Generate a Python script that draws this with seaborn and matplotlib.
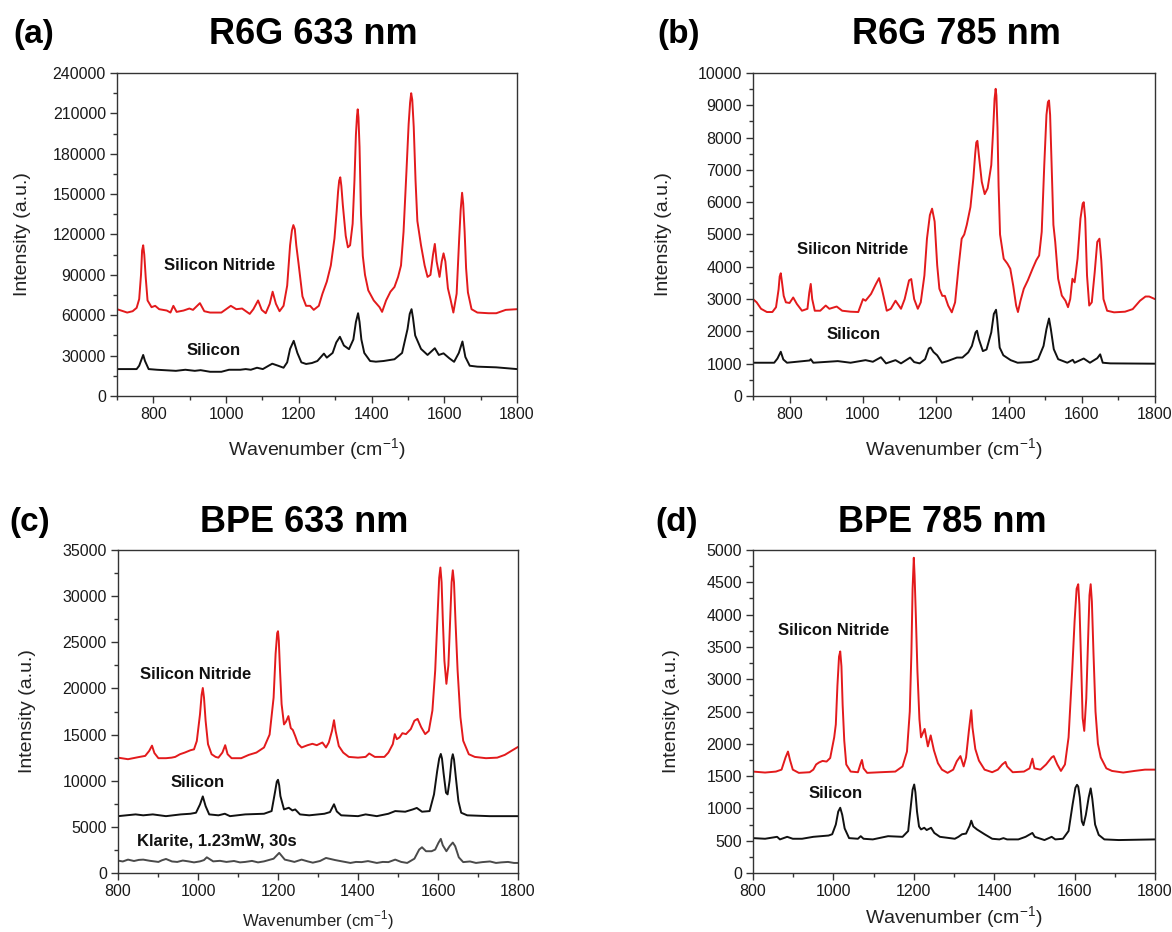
import matplotlib
matplotlib.use("Agg")
import matplotlib.pyplot as plt
from matplotlib.ticker import MultipleLocator
import seaborn as sns
import pandas as pd

# ---------------- data ----------------
# (a) R6G 633 nm
a_nitride_x = [700, 717, 728, 743, 754, 761, 766, 769, 772, 775, 779, 784, 795, 805, 816, 837, 847, 855, 864, 883,
               899, 909, 928, 940, 956, 987, 1013, 1028, 1044, 1065, 1075, 1088, 1098, 1109, 1120, 1128, 1137, 1147,
               1158, 1168, 1176, 1181, 1185, 1189, 1193, 1199, 1210, 1220, 1231, 1241, 1255, 1265, 1277, 1288, 1298,
               1304, 1308, 1311, 1314, 1317, 1321, 1329, 1335, 1341, 1348, 1353, 1357, 1360, 1362, 1364, 1367, 1371,
               1376, 1382, 1391, 1406, 1422, 1429, 1440, 1452, 1463, 1473, 1481, 1488, 1496, 1502, 1506, 1509, 1512,
               1516, 1521, 1526, 1536, 1546, 1554, 1562, 1569, 1574, 1579, 1587, 1593, 1598, 1603, 1610, 1617, 1625,
               1634, 1641, 1645, 1649, 1652, 1656, 1660, 1665, 1675, 1691, 1722, 1743, 1769, 1800]
a_nitride_y = [64500, 63000, 62000, 63000, 65500, 72000, 90000, 108000, 112000, 105000, 88000, 71000, 66000, 67000,
               64500, 63500, 62000, 67000, 62500, 63500, 65000, 64000, 69000, 63000, 62000, 62000, 67000, 64500,
               65000, 61000, 64500, 71000, 64000, 61500, 68500, 77500, 68500, 63000, 67000, 82000, 112000, 123000,
               127000, 124000, 112000, 99000, 74000, 67000, 67000, 64000, 67000, 76000, 85000, 97000, 117000, 137000,
               152000, 160000, 162500, 156000, 142000, 119000, 110500, 112000, 128000, 160000, 194000, 208000,
               213000, 207000, 185000, 135000, 104000, 90000, 78500, 71000, 66000, 62500, 71000, 77500, 81000, 88500,
               97000, 122000, 167000, 202000, 218000, 225000, 220000, 200000, 160000, 130000, 112000, 97000, 88500,
               90000, 105000, 113000, 100000, 88500, 100000, 106000, 100000, 80000, 72000, 62000, 76000, 117000,
               138000, 151000, 143000, 122000, 95000, 77000, 64500, 62000, 61500, 61500, 64000, 64500]
a_silicon_x = [700, 754, 761, 772, 777, 787, 810, 862, 888, 914, 930, 956, 987, 1008, 1039, 1054, 1068, 1085, 1101,
               1117, 1127, 1143, 1158, 1168, 1176, 1186, 1196, 1207, 1220, 1236, 1251, 1269, 1277, 1293, 1303, 1313,
               1324, 1338, 1350, 1357, 1363, 1367, 1372, 1380, 1396, 1412, 1433, 1463, 1484, 1499, 1505, 1510, 1514,
               1520, 1536, 1554, 1574, 1585, 1598, 1614, 1627, 1640, 1650, 1658, 1670, 1691, 1743, 1800]
a_silicon_y = [20000, 20000, 22500, 30500, 26000, 20000, 19500, 18700, 19500, 18700, 19200, 18000, 18000, 19500,
               19500, 20000, 19500, 21000, 20000, 22500, 24000, 22500, 21000, 25000, 35000, 41000, 32000, 25000,
               23800, 24500, 26000, 31500, 28500, 32000, 39800, 44000, 37500, 34800, 42000, 55000, 61500, 55000,
               42000, 32000, 26000, 25500, 26000, 27300, 32000, 49800, 61000, 64500, 58000, 45000, 35000, 30500,
               35500, 30500, 31700, 28000, 25400, 32000, 40500, 29000, 22500, 21800, 21300, 20000]

# (b) R6G 785 nm
b_nitride_x = [700, 710, 722, 738, 753, 763, 770, 773, 776, 779, 784, 790, 800, 810, 820, 834, 849, 854, 858, 862,
               869, 884, 899, 909, 929, 944, 967, 988, 1001, 1008, 1023, 1036, 1045, 1053, 1066, 1077, 1090, 1105,
               1115, 1127, 1133, 1141, 1151, 1159, 1169, 1176, 1184, 1190, 1197, 1204, 1210, 1218, 1225, 1234, 1244,
               1253, 1263, 1271, 1278, 1285, 1295, 1303, 1308, 1311, 1314, 1318, 1326, 1334, 1342, 1352, 1357, 1361,
               1364, 1366, 1369, 1372, 1376, 1386, 1396, 1404, 1412, 1420, 1425, 1432, 1441, 1452, 1465, 1475, 1483,
               1490, 1497, 1503, 1507, 1510, 1513, 1517, 1522, 1527, 1535, 1545, 1555, 1562, 1568, 1574, 1580, 1588,
               1596, 1602, 1605, 1609, 1614, 1620, 1627, 1635, 1642, 1648, 1653, 1659, 1669, 1688, 1718, 1739, 1759,
               1774, 1784, 1800]
b_nitride_y = [3000, 2900, 2700, 2600, 2600, 2750, 3300, 3700, 3800, 3550, 3100, 2900, 2880, 3050, 2850, 2640, 2700,
               3200, 3470, 3000, 2640, 2640, 2800, 2700, 2770, 2640, 2610, 2600, 3000, 2950, 3160, 3460, 3650, 3300,
               2640, 2700, 2950, 2700, 3000, 3580, 3620, 3000, 2700, 2900, 3730, 4870, 5600, 5800, 5400, 4050, 3320,
               3100, 3100, 2800, 2590, 2900, 4050, 4870, 5000, 5300, 5850, 6740, 7500, 7850, 7900, 7460, 6630, 6250,
               6430, 7150, 8200, 9200, 9510, 9300, 8300, 6500, 5000, 4250, 4100, 3940, 3420, 2800, 2600, 2950, 3320,
               3580, 3940, 4200, 4350, 5080, 7150, 8700, 9100, 9150, 8700, 7200, 5300, 4770, 3630, 3110, 2950, 2750,
               3000, 3630, 3520, 4250, 5490, 5950, 6000, 5500, 3730, 2800, 2900, 3830, 4770, 4870, 4200, 3000, 2640,
               2590, 2610, 2690, 2950, 3080, 3080, 3000]
b_silicon_x = [700, 758, 767, 776, 783, 793, 855, 858, 865, 932, 967, 1008, 1028, 1050, 1064, 1090, 1105, 1130,
               1141, 1156, 1171, 1181, 1186, 1194, 1204, 1217, 1232, 1258, 1273, 1289, 1299, 1309, 1313, 1318, 1329,
               1339, 1352, 1359, 1365, 1368, 1375, 1385, 1405, 1424, 1460, 1480, 1495, 1503, 1510, 1515, 1523, 1535,
               1560, 1575, 1580, 1605, 1622, 1642, 1650, 1657, 1678, 1800]
b_silicon_y = [1030, 1030, 1160, 1370, 1130, 1030, 1100, 1140, 1030, 1080, 1030, 1110, 1060, 1200, 1010, 1110, 1010,
               1190, 1050, 1010, 1140, 1470, 1500, 1360, 1260, 1030, 1080, 1190, 1190, 1350, 1550, 1970, 2020, 1760,
               1390, 1440, 1970, 2540, 2670, 2390, 1500, 1260, 1110, 1030, 1050, 1140, 1550, 2070, 2400, 2070, 1450,
               1140, 1030, 1120, 1030, 1160, 1030, 1170, 1290, 1030, 1010, 1000]

# (c) BPE 633 nm
c_nitride_x = [800, 825, 854, 868, 878, 885, 891, 901, 920, 934, 943, 955, 967, 981, 990, 997, 1005, 1009, 1012,
               1015, 1019, 1025, 1034, 1044, 1051, 1061, 1068, 1074, 1084, 1108, 1127, 1146, 1165, 1179, 1189, 1194,
               1198, 1200, 1202, 1205, 1209, 1215, 1220, 1226, 1232, 1237, 1243, 1250, 1259, 1274, 1286, 1297, 1311,
               1320, 1327, 1335, 1340, 1344, 1352, 1363, 1377, 1400, 1419, 1428, 1442, 1466, 1476, 1487, 1492, 1497,
               1504, 1511, 1520, 1532, 1541, 1549, 1558, 1568, 1577, 1586, 1593, 1599, 1603, 1606, 1609, 1612, 1616,
               1621, 1626, 1630, 1634, 1637, 1640, 1644, 1649, 1656, 1663, 1677, 1692, 1720, 1748, 1767, 1786, 1800]
c_nitride_y = [12500, 12330, 12580, 12690, 13230, 13800, 13000, 12440, 12440, 12500, 12580, 12870, 13050, 13300,
               13400, 14300, 17200, 19300, 20050, 19000, 16500, 13960, 12870, 12580, 12500, 13050, 13850, 12870,
               12440, 12440, 12800, 13050, 13600, 15000, 19000, 23750, 26000, 26200, 25200, 22000, 18300, 16100,
               16400, 17000, 15700, 15500, 14850, 14000, 13600, 13850, 14000, 13850, 14140, 13600, 14140, 15400,
               16560, 15400, 13760, 13050, 12580, 12500, 12580, 12950, 12580, 12580, 13050, 13960, 15050, 14500,
               14700, 15150, 15050, 15600, 16500, 16700, 15800, 15050, 15400, 17600, 21950, 28000, 32000, 33100,
               31500, 27500, 23000, 20500, 22500, 27000, 31500, 32800, 31500, 27000, 21950, 16900, 14330, 12870,
               12580, 12440, 12500, 12800, 13300, 13660]
c_silicon_x = [800, 844, 863, 887, 920, 957, 981, 995, 1005, 1012, 1019, 1028, 1051, 1067, 1080, 1118, 1165, 1184,
               1193, 1197, 1200, 1203, 1206, 1215, 1227, 1236, 1243, 1255, 1278, 1316, 1330, 1340, 1347, 1358, 1400,
               1419, 1447, 1476, 1493, 1518, 1537, 1547, 1560, 1579, 1590, 1598, 1603, 1607, 1610, 1614, 1620, 1624,
               1629, 1634, 1637, 1640, 1645, 1651, 1658, 1673, 1729, 1800]
c_silicon_y = [6160, 6350, 6250, 6350, 6160, 6350, 6420, 6530, 7430, 8300, 7250, 6350, 6250, 6420, 6160, 6350, 6420,
               6710, 8880, 9900, 10100, 9500, 8340, 6890, 7070, 6780, 6890, 6350, 6250, 6420, 6600, 7450, 6670, 6250,
               6160, 6350, 6160, 6420, 6710, 6640, 6890, 7050, 6640, 6710, 8520, 11060, 12400, 12900, 12400, 10800,
               8700, 8520, 10000, 12300, 12870, 12300, 10200, 7800, 6530, 6250, 6160, 6160]
c_klarite_x = [800, 812, 825, 840, 852, 863, 880, 901, 910, 920, 935, 948, 962, 976, 990, 1005, 1015, 1022, 1038,
               1055, 1071, 1090, 1105, 1118, 1135, 1150, 1165, 1189, 1203, 1217, 1230, 1241, 1259, 1275, 1287, 1305,
               1320, 1343, 1360, 1381, 1395, 1409, 1425, 1447, 1462, 1476, 1493, 1508, 1523, 1541, 1553, 1560, 1570,
               1584, 1593, 1601, 1607, 1612, 1621, 1629, 1637, 1643, 1652, 1663, 1680, 1695, 1711, 1730, 1745, 1758,
               1775, 1790, 1800]
c_klarite_y = [1340, 1250, 1450, 1300, 1420, 1450, 1320, 1200, 1380, 1520, 1250, 1200, 1350, 1260, 1150, 1260, 1400,
               1700, 1260, 1320, 1200, 1300, 1150, 1200, 1310, 1150, 1260, 1550, 2180, 1450, 1320, 1200, 1450, 1250,
               1120, 1300, 1630, 1400, 1260, 1090, 1200, 1180, 1290, 1090, 1200, 1180, 1450, 1200, 1090, 1550, 2540,
               2790, 2360, 2360, 2540, 3260, 3700, 3000, 2360, 2900, 3300, 2900, 1700, 1180, 1250, 1090, 1180, 1250,
               1090, 1150, 1200, 1090, 1090]

# (d) BPE 785 nm
d_nitride_x = [800, 830, 857, 871, 881, 887, 892, 899, 914, 941, 950, 957, 964, 973, 983, 992, 1002, 1006, 1010,
               1014, 1017, 1020, 1023, 1027, 1032, 1043, 1061, 1067, 1071, 1075, 1084, 1117, 1154, 1172, 1183, 1190,
               1194, 1197, 1200, 1202, 1205, 1209, 1214, 1218, 1227, 1235, 1242, 1250, 1260, 1270, 1284, 1298, 1307,
               1316, 1324, 1330, 1337, 1343, 1346, 1353, 1362, 1376, 1395, 1409, 1420, 1428, 1432, 1446, 1474, 1488,
               1495, 1500, 1515, 1529, 1543, 1548, 1557, 1566, 1576, 1585, 1594, 1600, 1605, 1609, 1612, 1616, 1620,
               1624, 1629, 1634, 1637, 1640, 1643, 1647, 1652, 1658, 1665, 1679, 1693, 1721, 1749, 1775, 1800]
d_nitride_y = [1570, 1555, 1570, 1600, 1790, 1880, 1750, 1600, 1550, 1560, 1600, 1680, 1710, 1735, 1725, 1780, 2100,
               2300, 2900, 3350, 3430, 3200, 2600, 2050, 1680, 1570, 1560, 1680, 1750, 1620, 1550, 1560, 1570, 1650,
               1880, 2500, 3400, 4400, 4880, 4600, 4000, 3130, 2380, 2100, 2230, 1960, 2130, 1900, 1700, 1600, 1550,
               1600, 1730, 1810, 1650, 1790, 2200, 2520, 2250, 1920, 1740, 1600, 1560, 1600, 1680, 1720, 1650, 1560,
               1570, 1620, 1770, 1620, 1600, 1680, 1790, 1810, 1680, 1580, 1680, 2100, 3130, 3900, 4400, 4470, 4150,
               3300, 2400, 2200, 2700, 3700, 4300, 4470, 4200, 3400, 2500, 2000, 1790, 1620, 1580, 1555, 1580, 1600,
               1600]
d_silicon_x = [800, 830, 860, 867, 885, 899, 922, 950, 988, 997, 1006, 1012, 1017, 1022, 1028, 1039, 1061, 1068,
               1075, 1098, 1136, 1172, 1186, 1193, 1197, 1201, 1204, 1208, 1213, 1218, 1226, 1232, 1243, 1251, 1265,
               1302, 1311, 1320, 1330, 1339, 1343, 1348, 1357, 1376, 1395, 1413, 1423, 1432, 1460, 1478, 1495, 1501,
               1525, 1543, 1552, 1571, 1585, 1595, 1602, 1606, 1609, 1613, 1618, 1622, 1628, 1635, 1640, 1644, 1651,
               1660, 1674, 1710, 1800]
d_silicon_y = [540, 530, 560, 520, 560, 530, 530, 560, 580, 600, 750, 950, 1010, 900, 690, 540, 530, 570, 530, 520,
               570, 560, 650, 1060, 1290, 1370, 1250, 950, 720, 675, 700, 665, 700, 620, 560, 530, 560, 600, 610, 730,
               810, 720, 675, 600, 530, 520, 540, 520, 520, 560, 620, 560, 510, 560, 520, 530, 650, 1060, 1320, 1365,
               1340, 1170, 800, 740, 900, 1170, 1310, 1150, 750, 590, 520, 510, 520]

titles = ["R6G 633 nm", "R6G 785 nm", "BPE 633 nm", "BPE 785 nm"]
letters = ["(a)", "(b)", "(c)", "(d)"]
ylims = [240000, 10000, 35000, 5000]
ymajor = [30000, 1000, 5000, 500]
xlims = [(700, 1800), (700, 1800), (800, 1800), (800, 1800)]

# ---------------- style ----------------
sns.set_theme(style="ticks")
plt.rcParams["font.family"] = ["Liberation Sans", "DejaVu Sans"]
plt.rcParams["mathtext.fontset"] = "custom"
plt.rcParams["mathtext.rm"] = "Liberation Sans"

RED = "#e31a1c"
BLACK = "#111111"
GRAY = "#4a4a4a"

fig = plt.figure(figsize=(11.72, 9.32), dpi=100)
W, H = 1172.0, 932.0
boxes = [(117, 73, 517, 396), (753, 73, 1155, 396), (118, 550, 518, 873), (753, 550, 1155, 873)]
axes = []
for (l, t, r, b) in boxes:
    axes.append(fig.add_axes([l / W, 1 - b / H, (r - l) / W, (b - t) / H]))

series = [
    [(a_nitride_x, a_nitride_y, RED), (a_silicon_x, a_silicon_y, BLACK)],
    [(b_nitride_x, b_nitride_y, RED), (b_silicon_x, b_silicon_y, BLACK)],
    [(c_nitride_x, c_nitride_y, RED), (c_silicon_x, c_silicon_y, BLACK), (c_klarite_x, c_klarite_y, GRAY)],
    [(d_nitride_x, d_nitride_y, RED), (d_silicon_x, d_silicon_y, BLACK)],
]

labels = [
    [("Silicon Nitride", 983, 96800), ("Silicon", 965, 34000)],
    [("Silicon Nitride", 972, 4530), ("Silicon", 975, 1900)],
    [("Silicon Nitride", 995, 21500), ("Silicon", 998, 9860), ("Klarite, 1.23mW, 30s", 1047, 3520)],
    [("Silicon Nitride", 1000, 3750), ("Silicon", 1005, 1230)],
]

title_x = [313, 956, 304, 942]
title_y = [34, 34, 523, 523]
letter_x = [13, 657, 9, 655]

for i, ax in enumerate(axes):
    for (xs, ys, col) in series[i]:
        df = pd.DataFrame({"x": xs, "y": ys})
        sns.lineplot(data=df, x="x", y="y", ax=ax, color=col, linewidth=1.4, sort=False, estimator=None)
    ax.set_xlim(*xlims[i])
    ax.set_ylim(0, ylims[i])
    ax.xaxis.set_major_locator(MultipleLocator(200))
    ax.xaxis.set_minor_locator(MultipleLocator(100))
    ax.yaxis.set_major_locator(MultipleLocator(ymajor[i]))
    ax.yaxis.set_minor_locator(MultipleLocator(ymajor[i] / 2))
    ax.tick_params(which="major", direction="out", length=5, width=1, colors="#333333",
                   labelsize=11.5, labelcolor="#1a1a1a", top=False, right=False, pad=3)
    ax.tick_params(which="minor", direction="out", length=3, width=1, colors="#333333", top=False, right=False)
    for sp in ax.spines.values():
        sp.set_visible(True)
        sp.set_color("#333333")
        sp.set_linewidth(1.0)
    ax.set_ylabel("Intensity (a.u.)", fontsize=14, color="#222222")
    xl_size = 12 if i == 2 else 14
    ax.set_xlabel(r"Wavenumber (cm$^{\mathregular{-1}}$)", fontsize=xl_size, color="#222222")
    ax.yaxis.label.set_verticalalignment("center")
    ax.xaxis.label.set_verticalalignment("center")
    l, t, r, b = boxes[i]
    ylab_px = [23, 663, 28, 672][i]
    ax.yaxis.set_label_coords((ylab_px - l) / (r - l), 0.5)
    xlab_px = [450, 450, 920, 918][i]
    ax.xaxis.set_label_coords(0.5, -(xlab_px - b) / (b - t))
    for (txt, tx, ty) in labels[i]:
        ax.text(tx, ty, txt, ha="center", va="center", fontsize=12, fontweight="bold", color="#111111")
    fig.text(title_x[i] / W, 1 - title_y[i] / H, titles[i], ha="center", va="center",
             fontsize=26, fontweight="bold", color="black")
    fig.text(letter_x[i] / W, 1 - title_y[i] / H, letters[i], ha="left", va="center",
             fontsize=24, fontweight="bold", color="black")

fig.savefig("out.png", dpi=100, facecolor="white")
